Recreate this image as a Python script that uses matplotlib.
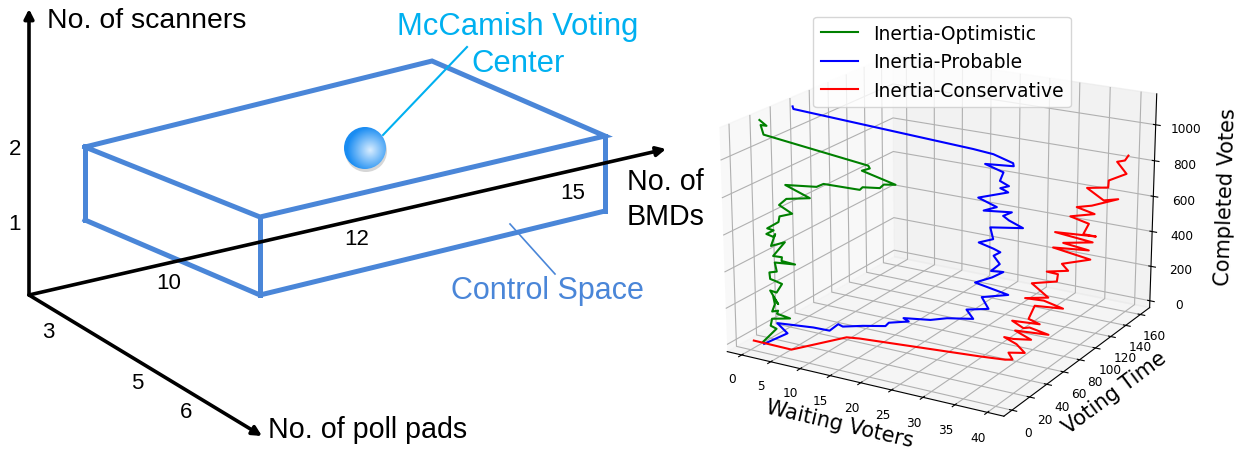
import numpy as np
import matplotlib

matplotlib.use("Agg")

import matplotlib.pyplot as plt
from matplotlib.patches import Circle

W, H = 1244, 452
BOX_COLOR = "#4a86d8"
CENTER_COLOR = "#00b0f0"

# left diagram, in image pixels
box_top = [(85, 148), (432, 62), (605, 137), (260, 218), (85, 148)]
box_bottom = [(85, 221), (260, 296), (605, 212)]
box_edges = [((85, 148), (85, 221)), ((260, 218), (260, 296)), ((605, 137), (605, 212))]
axis_origin = (29, 296)
axis_ends = [(29, 10), (666, 150), (262, 437)]
diagram_ticks = [("2", 15, 150), ("1", 15, 225), ("10", 169, 284), ("12", 357, 240), ("15", 573, 194),
                 ("3", 48, 333), ("5", 137, 384), ("6", 186, 413)]

# right chart
optimistic_waiting = [1.5, 3.7, 2.7, 2.8, 5.9, 3.5, 3.7, 2.5, 3.0, 2.6, 3.4, 1.9, 3.0, 3.8, 2.6, 1.6, 1.5, 2.6, 2.3,
                      5.6, 3.3, 3.2, 1.7, 3.6, 1.2, 1.8, 1.4, 0.1, 1.2, 0.1, 1.9, 2.1, 4.1, 1.9, 3.0, 7.0, 2.7, 8.0,
                      9.0, 15.0, 15.3, 18.1, 18.6, 20.5, 14.9, 16.2, 15.8, 0.1, 0.0, 1.0, 0.0]
optimistic_time = [4, 5, 5, 6, 6, 7, 7, 8, 8, 9, 9, 10, 10, 11, 11, 12, 12, 13, 13, 14, 14, 15, 15, 16, 16, 17, 18,
                   18, 19, 19, 20, 20, 21, 21, 22, 22, 23, 23, 24, 24, 25, 25, 26, 26, 27, 27, 28, 18, 16, 16, 15]
optimistic_votes = [3, 88, 98, 134, 158, 164, 182, 166, 210, 243, 210, 272, 268, 318, 327, 328, 363, 372, 420, 428,
                    432, 449, 446, 531, 495, 561, 539, 548, 572, 576, 619, 651, 675, 709, 746, 774, 817, 838, 857,
                    861, 874, 886, 905, 915, 954, 973, 983, 1084, 1139, 1140, 1168]

probable_waiting = [2.0, 4.7, 2.8, 8.8, 11.4, 12.7, 13.3, 16.5, 19.9, 20.3, 23.4, 22.4, 26.6, 29.1, 33.1, 31.9, 35.2,
                    34.0, 38.1, 32.8, 35.3, 36.9, 35.0, 36.2, 35.1, 36.0, 34.8, 32.5, 34.6, 34.0, 38.9, 36.6, 35.7,
                    36.9, 32.4, 34.3, 31.4, 35.9, 35.3, 34.4, 35.6, 34.2, 34.6, 31.6, 35.9, 35.8, 32.6, 29.3, 0.8, 0.5]
probable_time = [2, 10, 11, 12, 13, 14, 15, 16, 18, 19, 20, 21, 22, 23, 24, 25, 26, 27, 27, 28, 29, 30, 30, 31, 32,
                 33, 34, 34, 35, 36, 37, 38, 38, 39, 40, 41, 41, 42, 43, 44, 45, 45, 46, 47, 48, 48, 49, 50, 44, 45]
probable_votes = [1, 54, 94, 110, 108, 150, 138, 162, 179, 197, 223, 231, 248, 272, 294, 332, 356, 407, 447, 473,
                  514, 550, 543, 584, 618, 639, 647, 665, 693, 748, 772, 795, 813, 836, 815, 842, 874, 925, 928, 933,
                  948, 967, 1011, 1035, 1045, 1060, 1086, 1092, 1164, 1174]

conservative_waiting = [0.4, 6.7, 11.8, 12.7, 31.1, 34.6, 35.5, 33.9, 36.1, 34.5, 32.1, 33.3, 35.9, 32.9, 38.0, 34.7,
                        33.3, 31.2, 35.4, 33.2, 33.9, 38.2, 34.7, 31.4, 34.9, 31.8, 35.6, 35.5, 33.3, 36.5, 35.1,
                        39.4, 33.1, 38.5, 34.1, 38.6, 32.1, 38.5, 36.2, 36.7, 33.4, 37.1, 33.8, 36.0, 40.0, 37.3,
                        34.3, 37.5, 37.2, 39.8, 38.0, 38.9, 39.2]
conservative_time = [1, 2, 28, 36, 46, 50, 52, 59, 62, 64, 67, 69, 71, 74, 76, 78, 81, 83, 85, 88, 90, 92, 95, 97,
                     99, 102, 104, 106, 109, 111, 114, 116, 118, 121, 123, 125, 128, 130, 132, 135, 137, 139, 142,
                     144, 146, 149, 151, 153, 156, 158, 160, 163, 165]
conservative_votes = [11, 4, 26, 0, 5, 0, 1, 4, 9, 39, 51, 43, 51, 71, 78, 88, 65, 85, 89, 94, 166, 174, 185, 170,
                      191, 241, 271, 305, 296, 316, 337, 383, 404, 414, 422, 448, 456, 466, 459, 512, 528, 558, 569,
                      585, 640, 609, 656, 672, 702, 749, 801, 806, 830]

fig = plt.figure(figsize=(W / 100, H / 100), dpi=100)

bg = fig.add_axes([0, 0, 1, 1])
bg.axis("off")

for end in axis_ends:
    bg.annotate("", xy=end, xytext=axis_origin,
                arrowprops=dict(arrowstyle="-|>,head_width=0.28,head_length=0.55", color="black", lw=2.6,
                                shrinkA=0, shrinkB=0))
bg.plot(*zip(*box_top), color=BOX_COLOR, lw=3.6, solid_joinstyle="miter")
bg.plot(*zip(*box_bottom), color=BOX_COLOR, lw=3.6, solid_joinstyle="miter")
for start, stop in box_edges:
    bg.plot(*zip(start, stop), color=BOX_COLOR, lw=3.6)
bg.plot([383, 467], [136, 48], color=CENTER_COLOR, lw=1.5)
bg.plot([510, 555], [225, 275], color=BOX_COLOR, lw=1.2)

# shaded ball for the voting center
yy, xx = np.mgrid[-1:1:120j, -1:1:120j]
shade = np.clip(np.hypot(xx - 0.25, yy - 0.1) / 1.1, 0, 1)
ball = np.dstack([0.85 - 0.75 * shade, 0.93 - 0.38 * shade, 1 - 0.05 * shade])
bg.add_patch(Circle((366, 152), 21, color="#999999", alpha=0.4, lw=0))
im = bg.imshow(ball, extent=(344, 386, 170, 128), zorder=3, aspect="auto")
im.set_clip_path(Circle((365, 149), 21, transform=bg.transData))
bg.set_xlim(0, W)
bg.set_ylim(H, 0)

sans = "Liberation Sans"
bg.text(47, 21, "No. of scanners", family=sans, fontsize=20.4, va="center")
bg.text(268, 430, "No. of poll pads", family=sans, fontsize=20.6, va="center")
bg.text(627, 182, "No. of", family=sans, fontsize=20.6, va="center")
bg.text(627, 217, "BMDs", family=sans, fontsize=20.6, va="center")
bg.text(518, 27, "McCamish Voting", family=sans, fontsize=22.3, color=CENTER_COLOR, ha="center", va="center")
bg.text(518, 64, "Center", family=sans, fontsize=22.3, color=CENTER_COLOR, ha="center", va="center")
bg.text(547, 291, "Control Space", family=sans, fontsize=22, color=BOX_COLOR, ha="center", va="center")
for label, x, y in diagram_ticks:
    bg.text(x, y, label, family=sans, fontsize=16, ha="center", va="center")

ax = fig.add_axes([738.5 / W, 1 - 428 / H, 400 / W, 400 / H], projection="3d")
ax.patch.set_alpha(0)
ax.view_init(elev=19, azim=-60)
ax.set_box_aspect((0.944, 0.965, 0.70), zoom=1.219)
ax.plot(optimistic_waiting, optimistic_time, optimistic_votes, color="g", lw=1.5, label="Inertia-Optimistic")
ax.plot(probable_waiting, probable_time, probable_votes, color="b", lw=1.5, label="Inertia-Probable")
ax.plot(conservative_waiting, conservative_time, conservative_votes, color="r", lw=1.5, label="Inertia-Conservative")
ax.set_xlim(-2.5, 42.5)
ax.set_ylim(-9, 173)
ax.set_zlim(-40, 1170)
ax.set_xticks(range(0, 41, 5))
ax.set_yticks(range(0, 161, 20))
ax.set_zticks(range(0, 1001, 200))
ax.tick_params(labelsize=8.7, pad=0)
ax.zaxis.set_tick_params(pad=3)
ax.set_xlabel("Waiting Voters", fontsize=15, labelpad=-3)
ax.set_ylabel("Voting Time", fontsize=15, labelpad=-3)
ax.set_zlabel("Completed Votes", fontsize=15, labelpad=6)

fig.legend(loc="upper left", bbox_to_anchor=(813 / W, 1 - 17.5 / H), bbox_transform=fig.transFigure,
           fontsize=13.5, borderaxespad=0)
fig.savefig("out.png", dpi=100)
